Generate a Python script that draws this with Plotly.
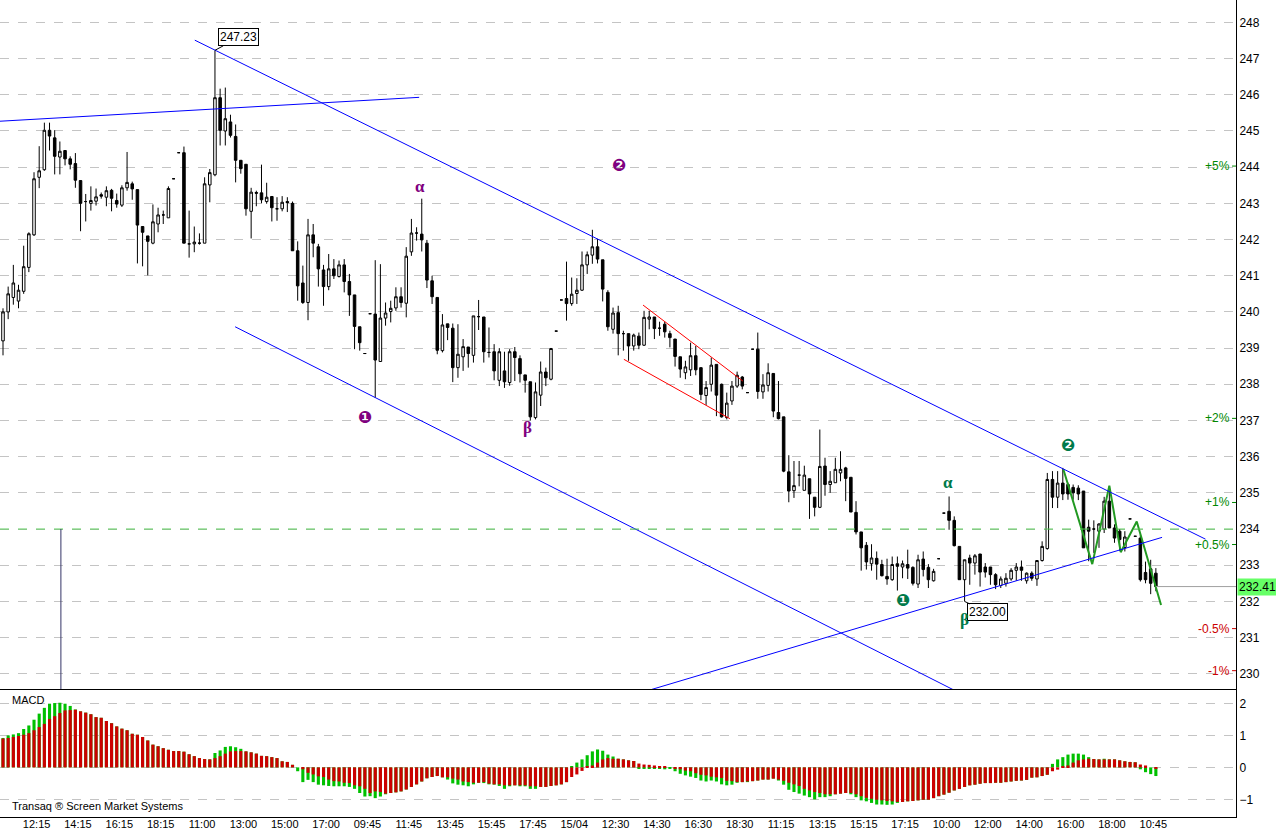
import plotly.graph_objects as go

# ---------------- data ----------------
tick_labels = ["12:15", "14:15", "16:15", "18:15", "11:00", "13:00", "15:00", "17:00",
               "09:45", "11:45", "13:45", "15:45", "17:45", "15/04", "12:30", "14:30",
               "16:30", "18:30", "11:15", "13:15", "15:15", "17:15", "10:00", "12:00",
               "14:00", "16:00", "18:00", "10:45"]

ohlc = [
    (239.20, 240.10, 238.80, 240.00), (240.00, 240.70, 239.80, 240.50), (240.40, 241.30, 240.20, 240.80),
    (240.30, 240.75, 240.10, 240.60), (240.57, 241.83, 240.50, 241.25), (241.23, 242.20, 241.10, 242.16),
    (242.13, 243.86, 242.10, 243.68), (243.72, 244.58, 243.42, 243.90), (243.93, 245.23, 243.90, 245.02),
    (245.02, 245.23, 244.46, 244.86), (244.81, 245.02, 243.80, 244.30), (244.28, 244.71, 243.80, 244.44),
    (244.46, 244.46, 244.05, 244.23), (244.23, 244.30, 243.94, 244.08), (244.10, 244.39, 243.43, 243.64),
    (243.63, 243.63, 242.23, 243.00), (243.05, 243.26, 242.50, 243.05), (243.00, 243.47, 242.80, 243.08),
    (243.06, 243.41, 242.94, 243.18), (243.24, 243.30, 243.13, 243.20), (243.17, 243.47, 242.92, 243.35),
    (243.36, 243.40, 242.78, 243.14), (243.08, 243.27, 242.88, 242.98), (242.95, 243.50, 242.90, 243.43),
    (243.43, 244.42, 243.35, 243.58), (243.54, 243.60, 243.10, 243.40), (243.38, 243.38, 241.34, 242.40),
    (242.36, 242.36, 241.26, 242.20), (242.10, 242.10, 241.01, 241.95), (241.90, 242.97, 241.87, 242.49),
    (242.43, 242.88, 242.20, 242.68), (242.68, 242.80, 242.43, 242.68), (242.60, 243.47, 242.60, 243.41),
    (243.68, 243.68, 243.68, 243.68), (244.40, 244.40, 244.40, 244.40), (244.40, 244.57, 241.90, 241.90),
    (241.88, 242.80, 241.50, 241.88), (241.88, 242.36, 241.65, 241.93), (241.90, 242.17, 241.86, 241.90),
    (241.90, 243.72, 241.90, 243.54), (243.51, 243.95, 243.03, 243.85), (243.79, 247.23, 243.75, 245.92),
    (245.92, 246.17, 244.60, 245.02), (245.00, 246.20, 244.60, 245.34), (245.25, 245.45, 244.82, 244.88),
    (244.85, 245.18, 243.58, 244.19), (244.19, 244.19, 243.82, 243.96), (244.08, 244.08, 242.66, 242.85),
    (242.78, 243.43, 242.03, 243.31), (243.30, 243.35, 242.92, 243.28), (243.29, 244.07, 243.00, 243.10),
    (243.05, 243.57, 242.99, 243.17), (243.19, 243.19, 242.50, 242.88), (242.85, 243.17, 242.52, 242.85),
    (242.85, 243.20, 242.78, 243.03), (243.05, 243.17, 242.76, 243.02), (243.00, 243.05, 241.69, 241.69),
    (241.69, 241.95, 240.31, 240.72), (240.80, 241.28, 240.22, 240.26), (240.26, 242.57, 239.77, 242.13),
    (242.13, 242.43, 241.51, 241.90), (241.80, 241.88, 240.70, 241.19), (241.16, 241.30, 240.17, 240.70),
    (240.70, 241.60, 240.60, 241.19), (241.19, 241.46, 240.91, 241.00), (240.98, 241.42, 240.95, 241.30),
    (241.30, 241.46, 240.54, 240.84), (240.84, 241.05, 239.89, 240.47), (240.47, 240.47, 238.97, 239.60),
    (239.59, 239.59, 238.93, 239.15), (238.85, 238.85, 238.85, 238.85), (239.95, 239.95, 239.95, 239.95),
    (239.94, 241.43, 237.63, 238.67), (238.63, 241.32, 238.63, 239.83), (239.83, 240.26, 239.62, 239.97),
    (240.01, 240.31, 239.71, 240.10), (240.11, 240.68, 240.03, 240.42), (240.42, 240.68, 240.12, 240.26),
    (240.24, 241.79, 239.85, 241.54), (241.66, 242.57, 241.55, 242.18), (242.18, 242.34, 241.97, 242.18),
    (242.15, 243.13, 241.67, 241.99), (241.90, 241.99, 240.66, 240.88), (240.86, 241.00, 240.22, 240.42),
    (240.40, 240.40, 238.83, 238.94), (238.93, 239.94, 238.88, 239.64), (239.67, 239.67, 239.22, 239.57),
    (239.55, 239.68, 238.06, 238.46), (238.46, 239.66, 238.18, 238.83), (238.76, 239.25, 238.37, 239.04),
    (239.03, 239.03, 238.46, 238.85), (238.80, 239.89, 238.60, 239.89), (239.87, 240.33, 239.50, 239.87),
    (239.86, 239.86, 238.60, 238.90), (238.88, 239.57, 238.74, 238.88), (238.90, 239.11, 238.11, 238.37),
    (238.11, 239.00, 237.95, 238.90), (238.37, 238.90, 237.90, 238.07), (238.05, 238.97, 237.96, 238.90),
    (238.90, 239.03, 238.09, 238.74), (238.71, 238.80, 238.05, 238.29), (238.26, 238.26, 237.77, 238.11),
    (238.07, 238.07, 237.00, 237.10), (237.08, 238.05, 237.03, 237.79), (237.70, 238.63, 237.40, 238.34),
    (238.34, 238.46, 237.95, 238.18), (238.14, 239.00, 238.11, 238.99), (239.47, 239.47, 239.47, 239.47),
    (240.33, 240.33, 240.33, 240.33), (240.37, 241.39, 239.76, 240.23), (240.23, 240.95, 240.17, 240.49),
    (240.51, 240.93, 240.22, 240.60), (240.60, 241.67, 240.58, 241.30), (241.30, 241.67, 241.05, 241.58),
    (241.57, 242.27, 241.33, 241.80), (241.80, 242.02, 241.34, 241.46), (241.44, 241.44, 240.29, 240.63),
    (240.54, 240.60, 239.48, 239.59), (239.52, 240.12, 239.40, 239.97), (239.98, 240.17, 238.80, 239.40),
    (239.40, 239.48, 238.93, 239.40), (239.40, 239.40, 238.65, 239.06), (239.06, 239.40, 238.93, 239.36),
    (239.33, 239.43, 238.97, 239.08), (239.08, 240.03, 239.06, 239.85), (239.80, 240.03, 239.52, 239.86),
    (239.86, 239.86, 239.25, 239.54), (239.55, 239.73, 239.34, 239.55), (239.66, 239.73, 239.29, 239.45),
    (239.40, 239.48, 239.02, 239.29), (239.25, 239.25, 238.49, 238.77), (238.76, 238.76, 238.18, 238.42),
    (238.32, 238.65, 238.14, 238.48), (238.40, 239.15, 238.23, 238.79), (238.79, 239.06, 238.25, 238.40),
    (238.46, 238.46, 237.56, 237.72), (237.69, 238.09, 237.43, 237.91), (238.00, 238.74, 237.80, 238.53),
    (238.55, 238.55, 237.12, 237.70), (238.00, 238.02, 237.08, 237.10), (237.08, 237.77, 237.03, 237.48),
    (237.54, 238.09, 237.43, 237.95), (237.95, 238.35, 237.90, 238.25), (238.20, 238.23, 237.86, 237.95),
    (237.77, 237.77, 237.77, 237.77), (238.97, 238.97, 238.97, 238.97), (238.97, 239.43, 237.60, 237.80),
    (237.79, 238.28, 237.60, 237.98), (237.97, 238.58, 237.80, 238.32), (238.30, 238.30, 237.09, 237.26),
    (237.22, 238.09, 237.03, 237.05), (237.10, 237.10, 235.57, 235.60), (235.58, 236.04, 234.74, 235.05),
    (235.06, 235.88, 234.86, 235.20), (235.49, 235.88, 235.18, 235.49), (235.07, 235.75, 235.07, 235.49),
    (235.39, 235.39, 234.28, 234.97), (234.88, 234.88, 234.35, 234.60), (234.60, 236.75, 234.58, 235.73),
    (235.74, 235.97, 234.92, 235.23), (235.23, 235.60, 235.00, 235.32), (235.28, 235.97, 235.28, 235.65),
    (235.55, 236.15, 235.32, 235.65), (235.69, 235.72, 234.77, 235.40), (235.43, 235.43, 234.47, 234.47),
    (234.46, 234.77, 233.85, 233.92), (233.92, 233.92, 232.85, 233.48), (233.55, 233.64, 232.88, 233.09),
    (233.04, 233.58, 232.85, 233.20), (233.19, 233.38, 232.60, 233.03), (233.02, 233.15, 232.69, 232.71),
    (232.69, 233.18, 232.46, 232.62), (232.60, 233.24, 232.57, 233.02), (233.04, 233.24, 232.30, 232.97),
    (232.95, 233.13, 232.64, 233.04), (233.02, 233.43, 232.62, 232.92), (232.94, 232.97, 232.44, 232.50),
    (232.48, 233.29, 232.37, 233.15), (233.17, 233.38, 232.69, 232.88), (232.94, 233.03, 232.37, 232.60),
    (232.57, 232.90, 232.55, 232.83), (233.18, 233.18, 233.18, 233.18), (234.44, 234.44, 234.44, 234.44),
    (234.49, 234.90, 233.98, 234.24), (234.24, 234.35, 233.52, 233.54), (233.52, 233.52, 232.60, 232.60),
    (232.60, 233.15, 232.00, 233.15), (233.20, 233.29, 232.46, 233.06), (233.06, 233.31, 232.74, 233.26),
    (233.31, 233.31, 232.41, 232.81), (232.95, 233.06, 232.66, 232.81), (232.95, 232.95, 232.46, 232.74),
    (232.74, 232.78, 232.34, 232.46), (232.44, 232.69, 232.37, 232.62), (232.50, 232.78, 232.41, 232.64),
    (232.62, 232.92, 232.57, 232.86), (232.86, 233.06, 232.57, 232.95), (232.95, 233.13, 232.57, 232.86),
    (232.57, 232.80, 232.49, 232.78), (232.78, 232.83, 232.57, 232.64), (232.62, 233.13, 232.43, 233.13),
    (233.13, 233.66, 233.10, 233.52), (233.46, 235.55, 233.43, 235.37), (235.37, 235.60, 234.58, 234.88),
    (234.88, 235.60, 234.58, 235.27), (235.27, 235.69, 234.80, 234.97), (235.23, 235.28, 234.81, 234.97),
    (235.15, 235.23, 234.81, 235.00), (235.13, 235.21, 234.80, 234.97), (235.05, 235.05, 233.48, 233.48),
    (234.05, 234.26, 233.11, 233.94), (234.00, 234.24, 233.34, 234.00), (233.94, 234.16, 233.48, 234.14),
    (234.00, 234.89, 233.89, 234.77), (234.77, 235.18, 234.03, 234.03), (234.03, 234.13, 233.62, 233.75),
    (233.94, 234.00, 233.40, 233.71), (233.49, 233.94, 233.38, 233.78), (234.28, 234.28, 234.28, 234.28),
    (233.80, 233.80, 233.80, 233.80), (233.75, 233.84, 232.55, 232.60), (232.80, 233.10, 232.50, 232.60),
    (232.90, 233.15, 232.20, 232.50), (232.78, 232.92, 232.28, 232.41),
]
opens = [r[0] for r in ohlc]
highs = [r[1] for r in ohlc]
lows = [r[2] for r in ohlc]
closes = [r[3] for r in ohlc]

# MACD: red bars (signal) drawn over green bars (macd)
signal_vals = [
    0.90, 0.92, 0.95, 0.98, 1.02, 1.07, 1.16, 1.26, 1.36, 1.51, 1.60, 1.70, 1.78, 1.79, 1.80, 1.75,
    1.71, 1.66, 1.57, 1.55, 1.45, 1.38, 1.28, 1.21, 1.16, 1.05, 1.02, 0.95, 0.84, 0.71, 0.66, 0.60,
    0.55, 0.51, 0.51, 0.49, 0.41, 0.35, 0.29, 0.26, 0.25, 0.29, 0.35, 0.43, 0.50, 0.51, 0.51, 0.50,
    0.47, 0.43, 0.36, 0.35, 0.32, 0.29, 0.19, 0.17, 0.08, 0.00, -0.06, -0.17, -0.22, -0.28, -0.30, -0.38,
    -0.43, -0.44, -0.48, -0.49, -0.56, -0.59, -0.67, -0.80, -0.75, -0.77, -0.82, -0.80, -0.78, -0.75, -0.69, -0.61,
    -0.53, -0.44, -0.34, -0.30, -0.27, -0.31, -0.31, -0.35, -0.38, -0.44, -0.46, -0.48, -0.48, -0.46, -0.51, -0.53,
    -0.53, -0.56, -0.56, -0.56, -0.56, -0.56, -0.59, -0.59, -0.61, -0.61, -0.58, -0.56, -0.53, -0.46, -0.30, -0.22,
    -0.11, 0.03, 0.06, 0.15, 0.25, 0.29, 0.27, 0.27, 0.25, 0.22, 0.20, 0.12, 0.09, 0.08, 0.06, 0.04,
    0.02, 0.00, -0.04, -0.06, -0.10, -0.12, -0.18, -0.23, -0.25, -0.29, -0.31, -0.33, -0.42, -0.43, -0.46, -0.46,
    -0.44, -0.43, -0.41, -0.38, -0.38, -0.35, -0.38, -0.42, -0.48, -0.53, -0.58, -0.67, -0.72, -0.77, -0.80, -0.84,
    -0.84, -0.84, -0.82, -0.80, -0.80, -0.84, -0.90, -0.95, -0.98, -1.01, -1.03, -1.05, -1.06, -1.08, -1.08, -1.06,
    -1.05, -1.03, -1.01, -1.01, -0.96, -0.90, -0.85, -0.79, -0.72, -0.67, -0.61, -0.56, -0.54, -0.51, -0.49, -0.49,
    -0.48, -0.48, -0.46, -0.44, -0.42, -0.41, -0.39, -0.32, -0.31, -0.27, -0.23, -0.12, -0.07, 0.02, 0.06, 0.15,
    0.22, 0.25, 0.27, 0.26, 0.25, 0.25, 0.25, 0.25, 0.22, 0.19, 0.17, 0.16, 0.09, 0.06, 0.00, -0.04,
]
macd_vals = [
    0.92, 1.00, 1.03, 1.07, 1.20, 1.31, 1.49, 1.68, 1.86, 1.99, 2.01, 2.02, 1.99, 1.92, 1.81, 1.75,
    1.71, 1.66, 1.57, 1.55, 1.45, 1.38, 1.28, 1.21, 1.16, 1.05, 1.02, 0.95, 0.84, 0.71, 0.66, 0.60,
    0.55, 0.51, 0.51, 0.49, 0.41, 0.35, 0.29, 0.26, 0.25, 0.45, 0.53, 0.64, 0.66, 0.63, 0.58, 0.50,
    0.47, 0.43, 0.36, 0.35, 0.32, 0.29, 0.19, 0.17, 0.08, -0.12, -0.46, -0.39, -0.46, -0.54, -0.56, -0.58,
    -0.59, -0.59, -0.59, -0.61, -0.67, -0.80, -0.91, -0.90, -0.96, -0.91, -0.84, -0.80, -0.78, -0.75, -0.69, -0.61,
    -0.53, -0.44, -0.34, -0.30, -0.27, -0.31, -0.38, -0.50, -0.54, -0.56, -0.59, -0.53, -0.48, -0.49, -0.53, -0.54,
    -0.58, -0.67, -0.59, -0.56, -0.59, -0.59, -0.67, -0.67, -0.61, -0.61, -0.58, -0.56, -0.53, -0.46, 0.03, 0.15,
    0.25, 0.38, 0.50, 0.56, 0.52, 0.40, 0.34, 0.27, 0.25, 0.22, 0.20, -0.03, -0.02, -0.02, -0.03, -0.03,
    -0.06, -0.04, -0.12, -0.20, -0.25, -0.29, -0.33, -0.41, -0.44, -0.41, -0.44, -0.53, -0.56, -0.54, -0.48, -0.46,
    -0.46, -0.43, -0.41, -0.38, -0.38, -0.35, -0.41, -0.54, -0.70, -0.77, -0.82, -0.88, -0.93, -1.00, -0.93, -0.93,
    -0.90, -0.84, -0.82, -0.80, -0.84, -0.93, -1.03, -1.06, -1.11, -1.16, -1.16, -1.17, -1.16, -1.11, -1.08, -1.06,
    -1.05, -1.03, -1.01, -1.01, -0.96, -0.90, -0.85, -0.79, -0.72, -0.67, -0.61, -0.56, -0.54, -0.51, -0.49, -0.49,
    -0.48, -0.48, -0.46, -0.44, -0.42, -0.41, -0.39, -0.32, -0.31, -0.27, -0.23, 0.11, 0.25, 0.32, 0.40, 0.43,
    0.43, 0.40, 0.32, 0.26, 0.25, 0.27, 0.25, 0.25, 0.22, 0.19, 0.17, 0.16, -0.06, -0.15, -0.21, -0.27,
]

pct_levels = [5, 2, 1, 0.5, -0.5, -1]
pct_text = ["+5%", "+2%", "+1%", "+0.5%", "-0.5%", "-1%"]

# ---------------- figure ----------------
n = len(opens)
idx = list(range(n))
FONT = "Liberation Sans, Arial, sans-serif"

fig = go.Figure()
fig.add_trace(go.Candlestick(
    x=idx, open=opens, high=highs, low=lows, close=closes,
    increasing=dict(line=dict(color="black", width=1), fillcolor="white"),
    decreasing=dict(line=dict(color="black", width=1), fillcolor="black"),
    whiskerwidth=0, xaxis="x", yaxis="y", showlegend=False, hoverinfo="skip"))
fig.add_trace(go.Bar(x=idx, y=macd_vals, marker=dict(color="#00c000", line=dict(width=0)),
                     width=0.6, xaxis="x2", yaxis="y2", showlegend=False, hoverinfo="skip"))
fig.add_trace(go.Bar(x=idx, y=signal_vals, marker=dict(color="#cc0000", line=dict(width=0)),
                     width=0.6, xaxis="x2", yaxis="y2", showlegend=False, hoverinfo="skip"))

split = 0.1567
xr = [-0.58, 238.5]
tickvals = [6.5 + 8 * k for k in range(len(tick_labels))]

fig.update_layout(
    width=1276, height=831,
    margin=dict(l=0, r=40, t=0, b=14, autoexpand=False),
    paper_bgcolor="white", plot_bgcolor="white",
    font=dict(family=FONT, size=12, color="black"),
    barmode="overlay", boxgap=0.3,
    showlegend=False,
    xaxis=dict(domain=[0, 1], anchor="y", range=xr, showgrid=False, zeroline=False,
               showticklabels=False, showline=True, linecolor="black", linewidth=1,
               rangeslider=dict(visible=False), fixedrange=True),
    xaxis2=dict(domain=[0, 1], anchor="y2", range=xr, matches="x", showgrid=False, zeroline=False,
                tickmode="array", tickvals=tickvals, ticktext=tick_labels,
                tickfont=dict(size=11, family=FONT), ticks="", ticklabelstandoff=-3,
                showline=True, linecolor="black", linewidth=1, automargin=False),
    yaxis=dict(domain=[split, 1], anchor="x", side="right", range=[229.58, 248.62],
               tickmode="array", tickvals=list(range(230, 249)), ticks="",
               tickfont=dict(size=12, family=FONT), showgrid=True, gridcolor="#c4c4c4",
               griddash="dash", gridwidth=1, zeroline=False, showline=True,
               linecolor="black", linewidth=1, automargin=False),
    yaxis2=dict(domain=[0, split], anchor="x2", side="right", range=[-1.55, 2.45],
                tickmode="array", tickvals=[-1, 0, 1, 2], ticks="",
                tickfont=dict(size=12, family=FONT), showgrid=True, gridcolor="#c4c4c4",
                griddash="dash", gridwidth=1, zeroline=False, showline=True,
                linecolor="black", linewidth=1, automargin=False),
)

shapes = []


def seg(x0, y0, x1, y1, color, width=1, dash="solid"):
    shapes.append(dict(type="line", xref="x", yref="y", x0=x0, y0=y0, x1=x1, y1=y1,
                       line=dict(color=color, width=width, dash=dash)))


BLUE = "#0000ff"
seg(-0.58, 245.27, 80.5, 245.93, BLUE)
seg(37.1, 247.51, 232.6, 233.72, BLUE)
seg(44.9, 239.59, 183.8, 229.56, BLUE)
seg(124.6, 229.53, 224.2, 233.77, BLUE)
seg(123.8, 240.19, 143.1, 238.09, "#ff0000")
seg(120.1, 238.69, 140.6, 237.05, "#ff0000")

zig_x = [205.1, 210.7, 214.0, 216.2, 219.3, 224.0]
zig_y = [235.65, 233.03, 235.20, 233.36, 234.21, 231.90]
fig.add_trace(go.Scatter(x=zig_x, y=zig_y, mode="lines", line=dict(color="#229922", width=2),
                         xaxis="x", yaxis="y", hoverinfo="skip", showlegend=False))

# green dashed level and vertical marker
shapes.append(dict(type="line", xref="x domain", yref="y", x0=0, x1=1, y0=234.0, y1=234.0,
                   line=dict(color="#55cc55", width=1, dash="dash")))
shapes.append(dict(type="line", xref="x", yref="y", x0=11.2, x1=11.2, y0=234.0, y1=229.58,
                   line=dict(color="#333366", width=1)))
# last price line
last = closes[-1]
shapes.append(dict(type="line", xref="x", yref="y", x0=n - 1, x1=238.5, y0=last, y1=last,
                   line=dict(color="#a0a0a0", width=1)))

annotations = []
# percent labels
for p, t in zip(pct_levels, pct_text):
    v = last * (1 + p / 100.0)
    col = "#008800" if p > 0 else "#cc0000"
    annotations.append(dict(xref="paper", yref="y", x=0.9968, y=v, text=t, showarrow=False,
                            xanchor="right", yanchor="middle",
                            font=dict(size=12, color=col, family=FONT)))
    shapes.append(dict(type="line", xref="paper", yref="y", x0=0.9968, x1=1.0, y0=v, y1=v,
                       line=dict(color=col, width=1)))

# last price tag
annotations.append(dict(xref="paper", yref="y", x=1.0, y=last, text=f"{last:.2f}", showarrow=False,
                        xanchor="left", yanchor="middle", xshift=1, bgcolor="#66ff66",
                        width=38, align="left", font=dict(size=12, color="black", family=FONT)))

# high/low tags
annotations.append(dict(xref="x", yref="y", x=41, y=highs[41], text=f"{highs[41]:.2f}",
                        showarrow=True, arrowhead=0, arrowwidth=1, arrowcolor="black",
                        ax=24, ay=-13, standoff=0, bordercolor="black", borderwidth=1,
                        borderpad=1, bgcolor="white", font=dict(size=12, family=FONT)))
annotations.append(dict(xref="x", yref="y", x=186, y=lows[186], text=f"{lows[186]:.2f}",
                        showarrow=True, arrowhead=0, arrowwidth=1, arrowcolor="black",
                        ax=23, ay=11, standoff=0, bordercolor="black", borderwidth=1,
                        borderpad=1, bgcolor="white", font=dict(size=12, family=FONT)))

# wave labels
PURPLE = "#800080"
TEAL = "#007a4a"
wave_labels = [
    ("α", 80.7, 243.47, PURPLE, 17), ("β", 101.4, 236.80, PURPLE, 17),
    ("❶", 70.0, 237.10, PURPLE, 17), ("❷", 119.1, 244.05, PURPLE, 17),
    ("α", 182.8, 235.29, TEAL, 17), ("β", 185.9, 231.50, TEAL, 17),
    ("❶", 174.1, 232.03, TEAL, 17), ("❷", 206.0, 236.32, TEAL, 17),
]
for t, x, y, c, s in wave_labels:
    fam = "DejaVu Sans" if t in ("❶", "❷") else "Liberation Serif, DejaVu Serif, serif"
    annotations.append(dict(xref="x", yref="y", x=x, y=y, text=f"<b>{t}</b>", showarrow=False,
                            font=dict(size=s, color=c, family=fam)))

annotations.append(dict(xref="paper", yref="paper", x=0.008, y=(817 - 700) / 817, text="MACD",
                        showarrow=False, xanchor="left", yanchor="middle",
                        font=dict(size=11, family=FONT)))
annotations.append(dict(xref="paper", yref="paper", x=0.008, y=(817 - 806) / 817,
                        text="Transaq ® Screen Market Systems", showarrow=False,
                        xanchor="left", yanchor="middle", font=dict(size=11, family=FONT)))

fig.update_layout(shapes=shapes, annotations=annotations)
fig.write_html("out.html", config={"displayModeBar": False},
               post_script="document.body.style.margin='0';document.body.style.overflow='hidden';")
